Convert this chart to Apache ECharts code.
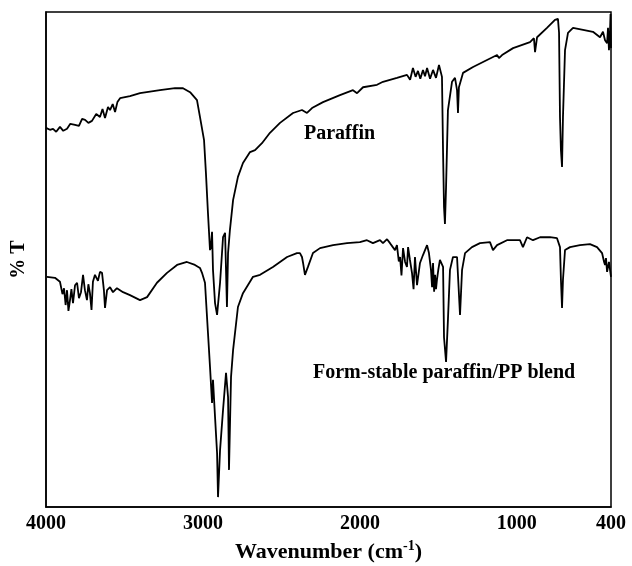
<!DOCTYPE html>
<html>
<head>
<meta charset="utf-8">
<title>FTIR spectra</title>
<script src="https://cdn.jsdelivr.net/npm/echarts@6/dist/echarts.min.js"></script>
<style>
  html, body { margin: 0; padding: 0; background: #fff; }
  #chart { width: 632px; height: 566px; }
</style>
</head>
<body>
<div id="chart"></div>
<script>
// wavenumber (cm-1) and transmittance (arbitrary %T, 0 = frame bottom, 100 = frame top)
var paraffinWn = [4000, 3975, 3955, 3935, 3911, 3890, 3866, 3845, 3815, 3790, 3770, 3751, 3730, 3707, 3680, 3656, 3640, 3624, 3605, 3592,
  3575, 3560, 3545, 3528, 3465, 3401, 3274, 3178, 3127, 3082, 3038, 3019,
  2993, 2981, 2968, 2955, 2949, 2942, 2936, 2923, 2910, 2891, 2872, 2859, 2847, 2840, 2828, 2808, 2777, 2745, 2700, 2668,
  2624, 2573, 2509, 2426, 2369, 2337, 2305, 2235, 2127, 2044, 2018, 1980, 1891, 1853, 1764, 1700, 1680, 1662, 1645, 1630, 1615, 1598, 1585, 1572,
  1553, 1534, 1515, 1496, 1477, 1470, 1464, 1458, 1451, 1439, 1413, 1394, 1381, 1375, 1369, 1343, 1279, 1190, 1126, 1114,
  1094, 1024, 916, 891, 884, 871, 808, 757, 738, 731, 725, 719, 712, 706, 693, 674, 642, 578, 515, 470,
  451, 438, 425, 419, 413, 406, 403, 400];
var paraffinT = [76.6, 76.2, 76.4, 75.8, 76.8, 76.0, 76.4, 77.4, 77.2, 77.0, 78.4, 78.2, 77.6, 78.0, 79.4, 78.8, 80.4, 78.6, 80.8, 80.2,
  81.4, 79.8, 81.8, 82.6, 83.0, 83.6, 84.2, 84.6, 84.6, 83.8, 82.2, 78.8,
  74.1, 67.5, 59.4, 51.9, 52.5, 55.6, 47.9, 41.2, 38.8, 45.3, 54.5, 55.4, 40.4, 51.3, 56.0, 62.0, 66.7, 69.5, 71.7, 72.1,
  73.5, 75.6, 77.6, 79.6, 80.2, 79.6, 80.6, 81.8, 83.2, 84.2, 83.6, 84.8, 85.3, 85.9, 86.7, 87.3, 86.3, 88.7, 86.9, 88.1, 86.5, 88.3, 87.0, 88.7,
  86.5, 88.3, 86.7, 89.3, 86.9, 71.5, 60.6, 57.2, 64.6, 80.2, 85.9, 86.7, 84.2, 79.6, 84.8, 87.7, 88.9, 90.3, 91.3, 90.7,
  91.3, 92.7, 93.9, 94.7, 91.9, 94.9, 96.8, 98.4, 98.6, 95.8, 78.8, 72.1, 68.7, 78.8, 92.3, 95.8, 96.8, 96.4, 96.0, 94.9,
  96.0, 94.3, 93.7, 96.8, 92.3, 96.4, 99.6, 92.7];

var blendWn = [3994, 3943, 3911, 3895, 3885, 3875, 3866, 3857, 3847, 3838, 3828, 3815, 3802, 3790, 3777, 3764, 3752, 3739, 3730, 3720,
  3710, 3701, 3688, 3669, 3656, 3643, 3631, 3624, 3611, 3592, 3573, 3548, 3509, 3465, 3401, 3356, 3293, 3229, 3165, 3102,
  3051, 3019, 3006, 2987, 2968, 2955, 2942, 2936, 2923, 2910, 2904, 2891, 2872, 2853, 2840, 2834, 2821, 2808, 2777, 2745,
  2681, 2636, 2554, 2464, 2401, 2382, 2369, 2362, 2350, 2331, 2299, 2254, 2171, 2082, 2000, 1955, 1917, 1872, 1853, 1827,
  1808, 1790, 1776, 1764, 1752, 1744, 1735, 1725, 1712, 1700, 1693, 1681, 1668, 1658, 1649, 1636, 1617, 1598, 1572, 1560,
  1547, 1540, 1534, 1527, 1521, 1515, 1509, 1500, 1490, 1470, 1464, 1451, 1439, 1426, 1407, 1381, 1362, 1349, 1330, 1286,
  1235, 1171, 1152, 1126, 1063, 980, 961, 935, 897, 852, 789, 744, 725, 719, 712, 706, 693, 661, 598, 534,
  489, 457, 444, 438, 432, 425, 419, 413, 406, 400];
var blendT = [46.5, 46.3, 45.5, 43.0, 44.2, 40.8, 43.8, 39.6, 41.8, 44.0, 41.2, 44.8, 45.3, 42.2, 43.4, 46.9, 43.8, 41.8, 45.0, 43.2,
  39.8, 45.5, 46.9, 45.7, 47.5, 47.3, 43.8, 40.2, 43.8, 44.4, 43.4, 44.2, 43.4, 42.8, 41.8, 42.4, 45.3, 47.3, 48.9, 49.5,
  48.9, 48.3, 47.3, 45.3, 35.2, 28.3, 21.0, 25.7, 18.2, 10.9, 2.0, 11.5, 19.6, 27.1, 22.2, 7.5, 26.3, 31.7, 40.4, 43.2,
  46.5, 46.9, 48.5, 50.5, 51.3, 51.3, 50.5, 49.3, 46.9, 48.5, 51.3, 52.3, 52.9, 53.3, 53.5, 53.9, 53.3, 53.9, 53.3, 54.1,
  53.3, 52.5, 51.9, 52.9, 49.6, 50.5, 46.8, 52.3, 49.5, 48.5, 52.5, 49.9, 47.3, 44.0, 50.5, 44.8, 49.3, 50.9, 52.9, 51.3,
  47.9, 44.4, 49.3, 43.5, 46.9, 44.0, 45.9, 48.0, 49.9, 48.5, 34.3, 29.3, 37.8, 47.9, 50.5, 50.5, 38.8, 47.9, 51.3, 52.5,
  53.3, 53.5, 51.9, 52.9, 53.9, 53.9, 52.5, 54.5, 53.9, 54.5, 54.5, 54.3, 52.5, 45.9, 40.2, 45.9, 51.9, 52.5, 52.9, 53.1,
  52.5, 51.3, 49.5, 48.9, 50.3, 47.5, 47.3, 49.5, 47.9, 46.5];

var xTickLabels = [4000, 3000, 2000, 1000, 400];
var seriesNames = ['Paraffin', 'Form-stable paraffin/PP blend'];

function pairs(xs, ys) {
  var out = [];
  for (var i = 0; i < xs.length; i++) out.push([xs[i], ys[i]]);
  return out;
}

var serif = '"Liberation Serif", "Times New Roman", serif';
var chart = echarts.init(document.getElementById('chart'));

chart.setOption({
  animation: false,
  backgroundColor: '#fff',
  grid: {
    left: 46, right: 21, top: 12, bottom: 59,
    outerBoundsMode: 'none',
    containLabel: false,
    show: true, borderColor: '#000', borderWidth: 1.5
  },
  xAxis: {
    type: 'value',
    inverse: true,
    min: 400,
    max: 4000,
    splitLine: { show: false },
    axisTick: { show: false },
    axisLine: { lineStyle: { color: '#000', width: 1.5 } },
    axisLabel: {
      customValues: xTickLabels,
      formatter: function (v) { return String(v); },
      color: '#000', fontFamily: serif, fontWeight: 'bold', fontSize: 20, margin: 7
    },
    name: 'Wavenumber (cm{sup|-1})',
    nameLocation: 'middle',
    nameGap: 32,
    nameTextStyle: {
      color: '#000', fontFamily: serif, fontWeight: 'bold', fontSize: 22, lineHeight: 26,
      rich: {
        sup: { fontFamily: serif, fontWeight: 'bold', fontSize: 14, lineHeight: 14, verticalAlign: 'top', color: '#000' }
      }
    }
  },
  yAxis: {
    type: 'value',
    min: 0,
    max: 100,
    splitLine: { show: false },
    axisTick: { show: false },
    axisLabel: { show: false },
    axisLine: { lineStyle: { color: '#000', width: 1.5 } },
    name: '% T',
    nameLocation: 'middle',
    nameRotate: 90,
    nameGap: 17,
    nameTextStyle: { color: '#000', fontFamily: serif, fontWeight: 'bold', fontSize: 20 }
  },
  graphic: [
    { type: 'text', left: 304, top: 124,
      style: { text: seriesNames[0], fill: '#000', font: 'bold 20px ' + serif } },
    { type: 'text', left: 313, top: 363,
      style: { text: seriesNames[1], fill: '#000', font: 'bold 20px ' + serif } }
  ],
  series: [
    {
      name: seriesNames[0], type: 'line', showSymbol: false, symbol: 'none',
      lineStyle: { color: '#000', width: 1.8 },
      data: pairs(paraffinWn, paraffinT)
    },
    {
      name: seriesNames[1], type: 'line', showSymbol: false, symbol: 'none',
      lineStyle: { color: '#000', width: 1.8 },
      data: pairs(blendWn, blendT)
    }
  ]
});
</script>
</body>
</html>
